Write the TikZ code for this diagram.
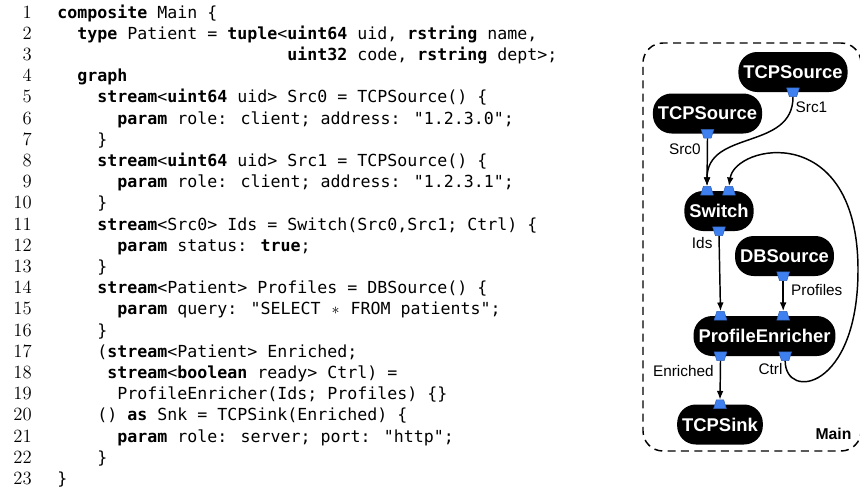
\documentclass[tikz,border=0pt]{standalone}
\usepackage{fontspec}
\newfontfamily\codefont{DejaVu Sans Mono}
\newfontfamily\diagfont{Liberation Sans}
\usetikzlibrary{positioning,arrows.meta,shapes.geometric}

\definecolor{portblue}{RGB}{62,128,240}
\tikzset{
    >={Latex[length=6.5pt,width=5pt]},
    lineno/.style={anchor=base east, inner sep=0pt, font=\fontsize{14}{16}\selectfont},
    codeline/.style={anchor=base west, inner sep=0pt, font=\codefont\fontsize{12.46}{15}\selectfont},
    op/.style={fill=black, text=white, rounded corners=14pt, minimum height=30pt, inner xsep=3.75pt,
        font=\diagfont\bfseries\fontsize{13.8}{16}\selectfont},
    inport/.style={trapezium, trapezium angle=70, trapezium stretches=true, fill=portblue,
        draw=portblue!75!black, line width=0.4pt, minimum width=9.5pt, minimum height=6.5pt, inner sep=1pt},
    outport/.style={inport, shape border rotate=180},
    lbl/.style={font=\diagfont\fontsize{11.5}{13}\selectfont, inner sep=1.5pt},
    flow/.style={->, line width=1.1pt}
}
\newcommand{\kw}[1]{\textbf{#1}}

\begin{document}
\begin{tikzpicture}[x=0.75pt, y=-0.75pt]
\useasboundingbox (0,0) rectangle (860,489);

% line numbers
\foreach \n in {1,...,23}
    \node[lineno] (ln\n) at (32, {18+(\n-1)*21.2}) {\n};

% code
\node[codeline] (c1) at (57,18) {\kw{composite} Main \{};
\node[codeline] (c2) at (77,39.2) {\kw{type} Patient = \kw{tuple}<\kw{uint64} uid, \kw{rstring} name,};
\node[codeline] (c3) at (287,60.4) {\kw{uint32} code, \kw{rstring} dept>;};
\node[codeline] (c4) at (77,81.6) {\kw{graph}};
\node[codeline] (c5) at (97,102.8) {\kw{stream}<\kw{uint64} uid> Src0 = TCPSource() \{};
\node[codeline] (c6) at (117,124) {\kw{param} role: client; address: "1.2.3.0";};
\node[codeline] (c7) at (97,145.2) {\}};
\node[codeline] (c8) at (97,166.4) {\kw{stream}<\kw{uint64} uid> Src1 = TCPSource() \{};
\node[codeline] (c9) at (117,187.6) {\kw{param} role: client; address: "1.2.3.1";};
\node[codeline] (c10) at (97,208.8) {\}};
\node[codeline] (c11) at (97,230) {\kw{stream}<Src0> Ids = Switch(Src0,Src1; Ctrl) \{};
\node[codeline] (c12) at (117,251.2) {\kw{param} status: \kw{true};};
\node[codeline] (c13) at (97,272.4) {\}};
\node[codeline] (c14) at (97,293.6) {\kw{stream}<Patient> Profiles = DBSource() \{};
\node[codeline] (c15) at (117,314.8) {\kw{param} query: "SELECT \makebox[7.5pt]{$\ast$} FROM patients";};
\node[codeline] (c16) at (97,336) {\}};
\node[codeline] (c17) at (97,357.2) {(\kw{stream}<Patient> Enriched;};
\node[codeline] (c18) at (107,378.4) {\kw{stream}<\kw{boolean} ready> Ctrl) =};
\node[codeline] (c19) at (117,399.6) {ProfileEnricher(Ids; Profiles) \{\}};
\node[codeline] (c20) at (97,420.8) {() \kw{as} Snk = TCPSink(Enriched) \{};
\node[codeline] (c21) at (117,442) {\kw{param} role: server; port: "http";};
\node[codeline] (c22) at (97,463.2) {\}};
\node[codeline] (c23) at (57,484.4) {\}};

% composite box
\node[draw, dashed, dash pattern=on 6pt off 4pt, line width=1.1pt, rounded corners=15pt,
    minimum width=163.5pt, minimum height=306pt, inner sep=0pt] (mainbox) at (752,247) {};
\node[anchor=base east, inner sep=0pt, font=\diagfont\bfseries\fontsize{11.8}{14}\selectfont]
    (mainlbl) at ([xshift=-7.5pt, yshift=9pt]mainbox.south east) {Main};

% operators
\node[op] (src1) at (793,72) {TCPSource};
\node[op] (src0) at (707.5,113.5) {TCPSource};
\node[op] (sw) at (719,211) {Switch};
\node[op] (db) at (784.5,256) {DBSource};
\node[op] (enr) at (764.5,336) {ProfileEnricher};
\node[op] (snk) at (720,424.5) {TCPSink};

% ports
\node[outport] (s1out) at (src1.south) {};
\node[outport] (s0out) at (src0.south) {};
\node[inport] (swin1) at ([xshift=-9pt]sw.north) {};
\node[inport] (swin2) at ([xshift=7.5pt]sw.north) {};
\node[outport] (swout) at (sw.south) {};
\node[outport] (dbout) at ([xshift=-1pt]db.south) {};
\node[inport] (enin1) at ([xshift=-33pt]enr.north) {};
\node[inport] (enin2) at ([xshift=14pt]enr.north) {};
\node[outport] (enout1) at ([xshift=-33pt]enr.south) {};
\node[outport] (enout2) at ([xshift=15.5pt]enr.south) {};
\node[inport] (snkin) at (snk.north) {};

% streams
\draw[flow] (s0out.south) -- (swin1.north) node[lbl, pos=0.22, left=3pt] (l0) {Src0};
\draw[flow] (s1out.south) .. controls +(0,54) and +(0,-57) .. (swin1.north)
    node[lbl, at start, anchor=north west, yshift=-2pt] (l1) {Src1};
\draw[flow] (swout.south) -- (enin1.north) node[lbl, pos=0.1, left=3pt] (lids) {Ids};
\draw[flow] (dbout.south) -- (enin2.north) node[lbl, pos=0.3, right=4pt] (lprof) {Profiles};
\draw[flow] (enout1.south) -- (snkin.north) node[lbl, pos=0.27, left=3pt] (lenr) {Enriched};

% feedback loop
\coordinate (loopr) at (858,270);
\draw[flow] (enout2.south) .. controls +(0,40) and +(0,120) .. (loopr)
    node[lbl, at start, anchor=north east] (lctrl) {Ctrl}
    .. controls +(0,-150) and +(6,-42) .. (swin2.north);

\end{tikzpicture}
\end{document}
